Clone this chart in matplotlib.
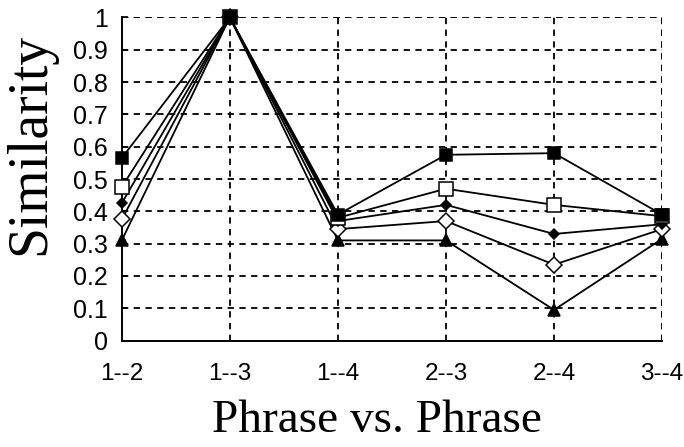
import matplotlib
matplotlib.use("Agg")
import matplotlib.pyplot as plt

categories = ["1--2", "1--3", "1--4", "2--3", "2--4", "3--4"]
filled_square = [0.565, 1.0, 0.39, 0.575, 0.58, 0.39]
open_square = [0.475, 1.0, 0.38, 0.47, 0.42, 0.385]
filled_diamond = [0.425, 1.0, 0.37, 0.42, 0.33, 0.36]
open_diamond = [0.375, 1.0, 0.345, 0.37, 0.235, 0.345]
filled_triangle = [0.31, 1.0, 0.31, 0.31, 0.095, 0.315]
y_ticks = [0, 0.1, 0.2, 0.3, 0.4, 0.5, 0.6, 0.7, 0.8, 0.9, 1]
y_ticklabels = ["0", "0.1", "0.2", "0.3", "0.4", "0.5", "0.6", "0.7", "0.8", "0.9", "1"]

fig = plt.figure(figsize=(6.84, 4.47), dpi=100)
ax = fig.add_axes([0.178, 0.238, 0.790, 0.723])

x = list(range(len(categories)))
dash = (0, (3.5, 3.0))
for yv in y_ticks[1:]:
    ax.axhline(yv, color="black", lw=1.3, ls=dash, zorder=1)
for xv in x[1:]:
    ax.axvline(xv, color="black", lw=1.3, ls=dash, zorder=1)

series = [
    (filled_triangle, "^", "black", 8.5),
    (open_diamond, "D", "white", 8),
    (filled_diamond, "D", "black", 5.5),
    (open_square, "s", "white", 9.5),
    (filled_square, "s", "black", 8.5),
]
for vals, m, fc, ms in series:
    ax.plot(x, vals, color="black", lw=1.3, marker=m, markerfacecolor=fc,
            markeredgecolor="black", markeredgewidth=1.1, markersize=ms, zorder=3,
            clip_on=False)

ax.set_xlim(0, len(categories) - 1)
ax.set_ylim(0, 1)
ax.set_xticks(x)
ax.set_xticklabels(categories, family="Liberation Sans", fontsize=17.5)
ax.set_yticks(y_ticks)
ax.set_yticklabels(y_ticklabels, family="Liberation Sans", fontsize=18)
ax.tick_params(axis="x", direction="in", length=0, pad=16)
ax.tick_params(axis="y", direction="in", length=4, width=1.2, pad=10)

ax.spines["left"].set_linewidth(1.4)
ax.spines["bottom"].set_linewidth(1.4)
for s in ["top", "right"]:
    ax.spines[s].set_visible(False)
ax.axhline(1.0, color="black", lw=1.3, ls=dash, zorder=1)
ax.axvline(len(categories) - 1, color="black", lw=1.3, ls=dash, zorder=1)

ax.set_xlabel("Phrase vs. Phrase", family="Liberation Serif", fontsize=34)
ax.xaxis.label.set_va("center")
ax.xaxis.set_label_coords(0.472, -0.248)
ax.set_ylabel("Similarity", family="Liberation Serif", fontsize=40)
ax.yaxis.label.set_va("center")
ax.yaxis.set_label_coords(-0.17, 0.61)

fig.savefig("out.png", dpi=100, facecolor="white")
